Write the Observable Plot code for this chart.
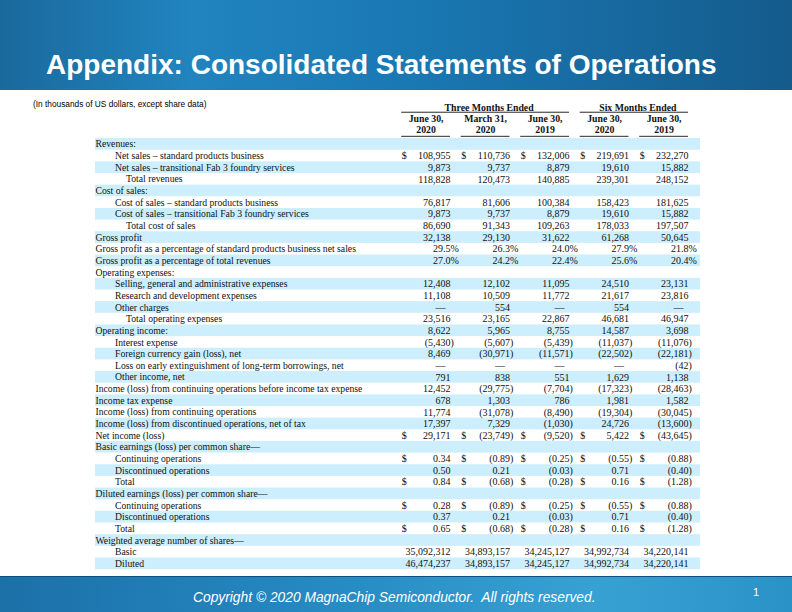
<!DOCTYPE html>
<html>
<head>
<meta charset="utf-8">
<script src="https://cdn.jsdelivr.net/npm/d3@7"></script>
<script src="https://cdn.jsdelivr.net/npm/@observablehq/plot@0.6"></script>
<style>
html, body { margin: 0; padding: 0; background: #fff; }
#page { position: relative; width: 792px; height: 612px; overflow: hidden; background: #fff; }
#banner { position: absolute; left: 0; top: 0; width: 792px; height: 90px;
  background: linear-gradient(90deg, #1a699d 0%, #2184bf 24%, #1a79b4 50%, #17699f 78%, #145b8b 100%); }
#title { position: absolute; left: 46px; top: 51.3px; color: #fff; white-space: nowrap;
  font: bold 28px/28px "Liberation Sans", Arial, sans-serif; }
#sub { position: absolute; left: 33px; top: 100px; color: #000; white-space: nowrap;
  font: 8.3px/8px "Liberation Sans", Arial, sans-serif; }
#chart { position: absolute; left: 0; top: 90px; }
#footer { position: absolute; left: 0; top: 576px; width: 792px; height: 36px;
  border-top: 1.5px solid #0f4f7e;
  background: linear-gradient(90deg, #1c70a8 0%, #2689c2 40%, #38a1d3 75%, #2b92c8 100%); }
#copy { position: absolute; left: 193px; top: 13.7px; color: #fff; white-space: nowrap;
  font: italic 13.8px/14px "Liberation Sans", Arial, sans-serif; }
#pg { position: absolute; left: 753px; top: 10px; color: #fff;
  font: 11px/11px "Liberation Sans", Arial, sans-serif; }
</style>
</head>
<body>
<div id="page">
  <div id="banner"><div id="title">Appendix: Consolidated Statements of Operations</div></div>
  <div id="sub">(In thousands of US dollars, except share data)</div>
  <div id="chart"></div>
  <div id="footer">
    <div id="copy">Copyright © 2020 MagnaChip Semiconductor.&nbsp; All rights reserved.</div>
    <div id="pg">1</div>
  </div>
</div>
<script>
// ---------------- DATA ----------------
const labels = [
  "Revenues:",
  "Net sales – standard products business",
  "Net sales – transitional Fab 3 foundry services",
  "Total revenues",
  "Cost of sales:",
  "Cost of sales – standard products business",
  "Cost of sales – transitional Fab 3 foundry services",
  "Total cost of sales",
  "Gross profit",
  "Gross profit as a percentage of standard products business net sales",
  "Gross profit as a percentage of total revenues",
  "Operating expenses:",
  "Selling, general and administrative expenses",
  "Research and development expenses",
  "Other charges",
  "Total operating expenses",
  "Operating income:",
  "Interest expense",
  "Foreign currency gain (loss), net",
  "Loss on early extinguishment of long-term borrowings, net",
  "Other income, net",
  "Income (loss) from continuing operations before income tax expense",
  "Income tax expense",
  "Income (loss) from continuing operations",
  "Income (loss) from discontinued operations, net of tax",
  "Net income (loss)",
  "Basic earnings (loss) per common share—",
  "Continuing operations",
  "Discontinued operations",
  "Total",
  "Diluted earnings (loss) per common share—",
  "Continuing operations",
  "Discontinued operations",
  "Total",
  "Weighted average number of shares—",
  "Basic",
  "Diluted"
];
const indentLevel = [0,1,1,2,0,1,1,2,0,0,0,0,1,1,1,2,0,1,1,1,1,0,0,0,0,0,0,1,1,1,0,1,1,1,0,1,1];

const periodGroups = ["Three Months Ended", "Six Months Ended"];
const periodOfColumn = [0, 0, 0, 1, 1];
const dateLabels = ["June 30,", "March 31,", "June 30,", "June 30,", "June 30,"];
const yearLabels = ["2020", "2020", "2019", "2020", "2019"];

// null = no value (section heading), 0 = shown as an em dash
const q2_2020 = [null,108955,9873,118828,null,76817,9873,86690,32138,29.5,27.0,null,12408,11108,0,23516,8622,-5430,8469,0,791,12452,678,11774,17397,29171,null,0.34,0.50,0.84,null,0.28,0.37,0.65,null,35092312,46474237];
const q1_2020 = [null,110736,9737,120473,null,81606,9737,91343,29130,26.3,24.2,null,12102,10509,554,23165,5965,-5607,-30971,0,838,-29775,1303,-31078,7329,-23749,null,-0.89,0.21,-0.68,null,-0.89,0.21,-0.68,null,34893157,34893157];
const q2_2019 = [null,132006,8879,140885,null,100384,8879,109263,31622,24.0,22.4,null,11095,11772,0,22867,8755,-5439,-11571,0,551,-7704,786,-8490,-1030,-9520,null,-0.25,-0.03,-0.28,null,-0.25,-0.03,-0.28,null,34245127,34245127];
const h1_2020 = [null,219691,19610,239301,null,158423,19610,178033,61268,27.9,25.6,null,24510,21617,554,46681,14587,-11037,-22502,0,1629,-17323,1981,-19304,24726,5422,null,-0.55,0.71,0.16,null,-0.55,0.71,0.16,null,34992734,34992734];
const h1_2019 = [null,232270,15882,248152,null,181625,15882,197507,50645,21.8,20.4,null,23131,23816,0,46947,3698,-11076,-22181,-42,1138,-28463,1582,-30045,-13600,-43645,null,-0.88,-0.40,-1.28,null,-0.88,-0.40,-1.28,null,34220141,34220141];

const percentRows = [9, 10];
const perShareRows = [27, 28, 29, 31, 32, 33];
const dollarRows = [1, 25, 27, 29, 31, 33];

// ---------------- BUILD ----------------
const columns = [q2_2020, q1_2020, q2_2019, h1_2020, h1_2019];
const COL_W = 0.82;            // width of one column block, in column units
const HEAD = {period: -3, date: -2, year: -1};
const serif = "'Liberation Serif', 'Times New Roman', serif";
const ink = "#111";
const stripe = "#cdeefd";

const rowIdx = d3.range(labels.length);
const cells = [];
columns.forEach((arr, c) => arr.forEach((v, i) => {
  if (v === null) return;
  const pct = percentRows.includes(i), eps = perShareRows.includes(i);
  const a = Math.abs(v);
  const s = pct ? a.toFixed(1) : eps ? a.toFixed(2) : d3.format(",")(a);
  cells.push({c, i, dash: v === 0, main: (v < 0 ? "(" : "") + s,
              suffix: (v < 0 ? ")" : "") + (pct ? "%" : "")});
}));
const dollars = [];
dollarRows.forEach(i => columns.forEach((arr, c) => dollars.push({c, i})));

const groups = periodGroups.map((label, g) => {
  const cs = d3.range(columns.length).filter(c => periodOfColumn[c] === g);
  return {label, x1: d3.min(cs) - COL_W, x2: d3.max(cs), y: HEAD.period};
});
const colHeads = d3.range(columns.length).map(c => ({
  c, x1: c - COL_W, x2: c, xm: c - COL_W / 2, date: dateLabels[c], year: yearLabels[c]
}));

const indentPx = [0, 19.5, 30.5];
const txt = {fontFamily: serif, fill: ink};
const LABEL_SIZE = 9.7, NUM_SIZE = 10, HEAD_SIZE = 9.8;

const chart = Plot.plot({
  width: 792, height: 488,
  marginLeft: 95, marginRight: 92, marginTop: 13.1, marginBottom: 8.9,
  x: {type: "linear", domain: [0, 4], range: [450, 688], axis: null},
  y: {type: "band", domain: d3.range(HEAD.period, labels.length), padding: 0, round: false, axis: null},
  style: {background: "transparent", overflow: "visible"},
  marks: [
    Plot.cell(rowIdx.filter(i => i % 2 === 0), {y: d => d, fill: stripe}),
    // header
    Plot.text(groups, {x: d => (d.x1 + d.x2) / 2, y: "y", text: "label", dx: 3.5, dy: -2, fontSize: HEAD_SIZE, fontWeight: "bold", ...txt}),
    Plot.ruleY(groups, {y: "y", x1: "x1", x2: "x2", dy: 2.8, stroke: ink, strokeWidth: 0.9}),
    Plot.text(colHeads, {x: "xm", y: () => HEAD.date, text: "date", dy: -2, fontSize: HEAD_SIZE, fontWeight: "bold", ...txt}),
    Plot.text(colHeads, {x: "xm", y: () => HEAD.year, text: "year", dy: -2.6, fontSize: HEAD_SIZE, fontWeight: "bold", ...txt}),
    Plot.ruleY(colHeads, {y: () => HEAD.year, x1: "x1", x2: "x2", dy: 3.6, stroke: ink, strokeWidth: 0.9}),
    // row labels
    ...[0, 1, 2].map(level => Plot.text(rowIdx.filter(i => indentLevel[i] === level), {
      y: d => d, text: d => labels[d], frameAnchor: "left", textAnchor: "start",
      dx: indentPx[level], fontSize: LABEL_SIZE, ...txt})),
    // values
    Plot.text(cells.filter(d => !d.dash), {x: "c", y: "i", text: "main", textAnchor: "end", fontSize: NUM_SIZE, ...txt}),
    Plot.text(cells.filter(d => !d.dash && d.suffix), {x: "c", y: "i", text: "suffix", textAnchor: "start", fontSize: NUM_SIZE, ...txt}),
    Plot.text(cells.filter(d => d.dash), {x: "c", y: "i", text: () => "—", dx: -10, fontSize: NUM_SIZE, ...txt}),
    Plot.text(dollars, {x: d => d.c - COL_W, y: "i", text: () => "$", textAnchor: "start", fontSize: NUM_SIZE, ...txt})
  ]
});
document.getElementById("chart").appendChild(chart);
</script>
</body>
</html>
